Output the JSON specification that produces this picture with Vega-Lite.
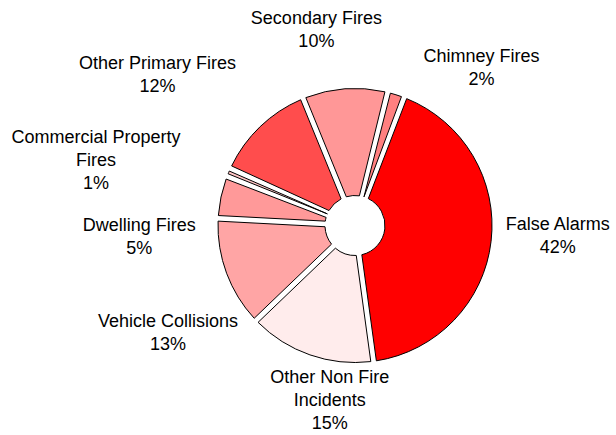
{
  "$schema": "https://vega.github.io/schema/vega-lite/v6.json",
  "width": 522,
  "height": 419,
  "autosize": "none",
  "padding": {"left": 94, "top": 16, "right": 0, "bottom": 0},
  "background": "white",
  "config": {"view": {"stroke": null}, "text": {"font": "Liberation Sans"}},
  "data": {
    "values": [
      {"category": "False Alarms", "pct": 42, "label": "False Alarms\n42%"},
      {"category": "Other Non Fire Incidents", "pct": 15, "label": "Other Non Fire\nIncidents\n15%"},
      {"category": "Vehicle Collisions", "pct": 13, "label": "Vehicle Collisions\n13%"},
      {"category": "Dwelling Fires", "pct": 5, "label": "Dwelling Fires\n5%"},
      {"category": "Commercial Property Fires", "pct": 1, "label": "Commercial Property\nFires\n1%"},
      {"category": "Other Primary Fires", "pct": 12, "label": "Other Primary Fires\n12%"},
      {"category": "Secondary Fires", "pct": 10, "label": "Secondary Fires\n10%"},
      {"category": "Chimney Fires", "pct": 2, "label": "Chimney Fires\n2%"}
    ]
  },
  "transform": [{"window": [{"op": "row_number", "as": "seq"}]}],
  "encoding": {
    "theta": {"field": "pct", "type": "quantitative", "stack": true, "scale": {"domain": [0, 100], "range": [0.3665, 6.6497]}},
    "order": {"field": "seq", "type": "quantitative"}
  },
  "layer": [
    {
      "mark": {"type": "arc", "outerRadius": 137, "innerRadius": 30, "padAngle": 0.04, "stroke": "#000", "strokeWidth": 1},
      "encoding": {
        "color": {
          "field": "category",
          "type": "nominal",
          "legend": null,
          "scale": {
            "domain": ["False Alarms", "Other Non Fire Incidents", "Vehicle Collisions", "Dwelling Fires", "Commercial Property Fires", "Other Primary Fires", "Secondary Fires", "Chimney Fires"],
            "range": ["#ff0000", "#ffecec", "#ffa5a5", "#ff9999", "#ffc4c4", "#ff4d4d", "#ff9797", "#ff8080"]
          }
        }
      }
    },
    {
      "mark": {"type": "text", "radius": 199, "thetaOffset": -0.122, "dy": -11.5, "fontSize": 18, "lineHeight": 23, "lineBreak": "\n", "align": "center", "baseline": "middle", "color": "#000"},
      "encoding": {"text": {"condition": {"test": "datum.category === 'Secondary Fires'", "field": "label", "type": "nominal"}, "value": ""}}
    },
    {
      "mark": {"type": "text", "radius": 202, "thetaOffset": 0.373, "dy": -11.5, "fontSize": 18, "lineHeight": 23, "lineBreak": "\n", "align": "center", "baseline": "middle", "color": "#000"},
      "encoding": {"text": {"condition": {"test": "datum.category === 'Chimney Fires'", "field": "label", "type": "nominal"}, "value": ""}}
    },
    {
      "mark": {"type": "text", "radius": 203, "thetaOffset": -0.061, "dy": -11.5, "fontSize": 18, "lineHeight": 23, "lineBreak": "\n", "align": "center", "baseline": "middle", "color": "#000"},
      "encoding": {"text": {"condition": {"test": "datum.category === 'False Alarms'", "field": "label", "type": "nominal"}, "value": ""}}
    },
    {
      "mark": {"type": "text", "radius": 177, "thetaOffset": -0.192, "dy": -23, "fontSize": 18, "lineHeight": 23, "lineBreak": "\n", "align": "center", "baseline": "middle", "color": "#000"},
      "encoding": {"text": {"condition": {"test": "datum.category === 'Other Non Fire Incidents'", "field": "label", "type": "nominal"}, "value": ""}}
    },
    {
      "mark": {"type": "text", "radius": 216, "thetaOffset": -0.168, "dy": -11.5, "fontSize": 18, "lineHeight": 23, "lineBreak": "\n", "align": "center", "baseline": "middle", "color": "#000"},
      "encoding": {"text": {"condition": {"test": "datum.category === 'Vehicle Collisions'", "field": "label", "type": "nominal"}, "value": ""}}
    },
    {
      "mark": {"type": "text", "radius": 216, "thetaOffset": -0.265, "dy": -11.5, "fontSize": 18, "lineHeight": 23, "lineBreak": "\n", "align": "center", "baseline": "middle", "color": "#000"},
      "encoding": {"text": {"condition": {"test": "datum.category === 'Dwelling Fires'", "field": "label", "type": "nominal"}, "value": ""}}
    },
    {
      "mark": {"type": "text", "radius": 267, "thetaOffset": -0.154, "dy": -23, "fontSize": 18, "lineHeight": 23, "lineBreak": "\n", "align": "center", "baseline": "middle", "color": "#000"},
      "encoding": {"text": {"condition": {"test": "datum.category === 'Commercial Property Fires'", "field": "label", "type": "nominal"}, "value": ""}}
    },
    {
      "mark": {"type": "text", "radius": 248, "thetaOffset": -0.157, "dy": -11.5, "fontSize": 18, "lineHeight": 23, "lineBreak": "\n", "align": "center", "baseline": "middle", "color": "#000"},
      "encoding": {"text": {"condition": {"test": "datum.category === 'Other Primary Fires'", "field": "label", "type": "nominal"}, "value": ""}}
    }
  ]
}
